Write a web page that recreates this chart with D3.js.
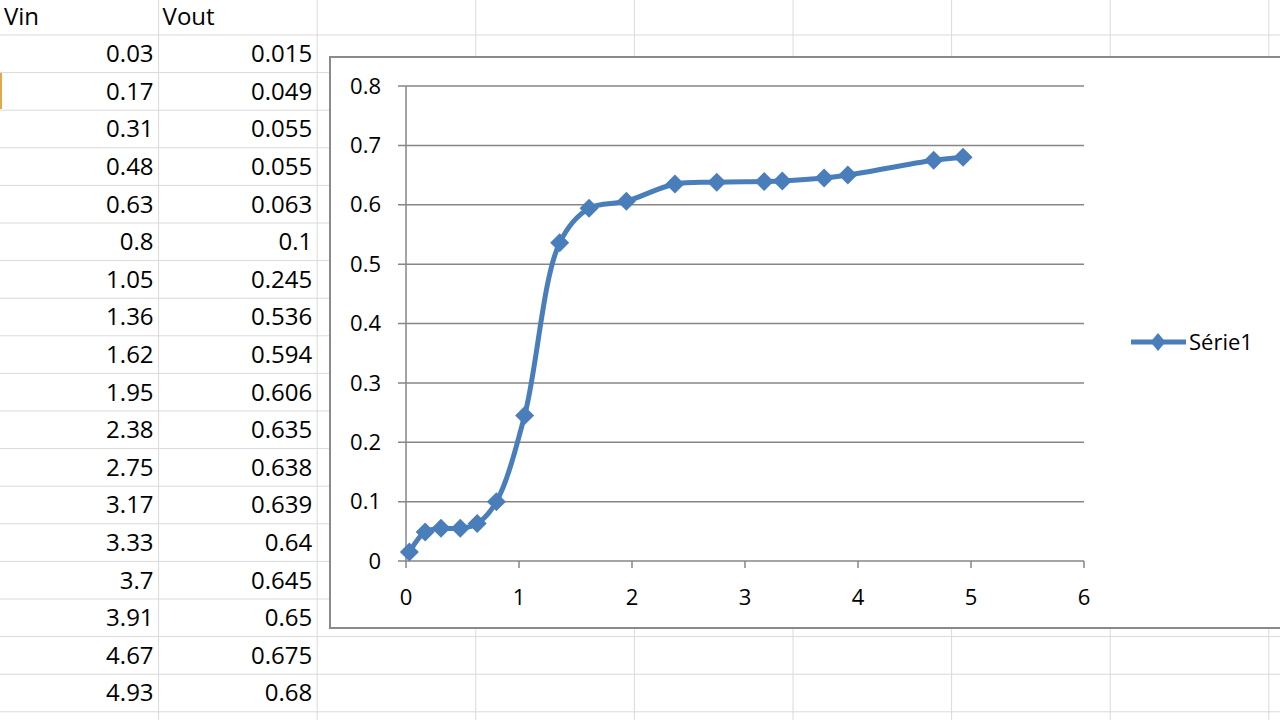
<!DOCTYPE html>
<html>
<head>
<meta charset="utf-8">
<script src="https://cdn.jsdelivr.net/npm/d3@7/dist/d3.min.js"></script>
<style>
  html, body { margin: 0; padding: 0; background: #ffffff; }
  svg { display: block; }
  text { font-family: "Open Sans", "Noto Sans", sans-serif; fill: #000000; }
</style>
</head>
<body>
<svg id="chart" width="1280" height="720"></svg>
<script>
// ---- data ----
const headers = ["Vin", "Vout"];
const vin  = [0.03, 0.17, 0.31, 0.48, 0.63, 0.8, 1.05, 1.36, 1.62, 1.95, 2.38, 2.75, 3.17, 3.33, 3.7, 3.91, 4.67, 4.93];
const vout = [0.015, 0.049, 0.055, 0.055, 0.063, 0.1, 0.245, 0.536, 0.594, 0.606, 0.635, 0.638, 0.639, 0.64, 0.645, 0.65, 0.675, 0.68];
const xTicks = [0, 1, 2, 3, 4, 5, 6];
const yTicks = [0, 0.1, 0.2, 0.3, 0.4, 0.5, 0.6, 0.7, 0.8];
const seriesName = "Série1";

const points = vin.map((v, i) => ({ x: v, y: vout[i] }));

const svg = d3.select("#chart");
const W = 1280, H = 720;

// ---- spreadsheet grid ----
const colW = 158.6, rowH = 37.6, headerBottom = 35;
const grid = svg.append("g");
for (let c = 1; c * colW < W; c++) {
  grid.append("line").attr("x1", c * colW).attr("x2", c * colW)
    .attr("y1", 0).attr("y2", H).attr("stroke", "#dadada").attr("stroke-width", 1);
}
for (let r = 0; headerBottom + r * rowH < H; r++) {
  const y = headerBottom + r * rowH;
  grid.append("line").attr("x1", 0).attr("x2", W)
    .attr("y1", y).attr("y2", y).attr("stroke", "#dadada").attr("stroke-width", 1);
}
// selected row marker on the left edge
grid.append("line").attr("x1", 1).attr("x2", 1).attr("y1", 73).attr("y2", 109)
  .attr("stroke", "#e3a84a").attr("stroke-width", 2);

// headers
const fs = 24;
headers.forEach((h, i) => {
  svg.append("text").attr("x", i * colW + 4).attr("y", 17).attr("dy", "0.35em")
    .attr("font-size", fs).text(h);
});
// values
vin.forEach((v, i) => {
  const yc = headerBottom + i * rowH + rowH / 2;
  svg.append("text").attr("x", colW - 5).attr("y", yc).attr("dy", "0.35em")
    .attr("text-anchor", "end").attr("font-size", fs).text(String(v));
  svg.append("text").attr("x", 2 * colW - 5).attr("y", yc).attr("dy", "0.35em")
    .attr("text-anchor", "end").attr("font-size", fs).text(String(vout[i]));
});

// ---- chart area ----
svg.append("rect").attr("x", 330).attr("y", 57).attr("width", 1000).attr("height", 571)
  .attr("fill", "#ffffff").attr("stroke", "#8a8a8a").attr("stroke-width", 2);

const x = d3.scaleLinear().domain([0, 6]).range([406, 1084]);
const y = d3.scaleLinear().domain([0, 0.8]).range([561, 86]);

const axisColor = "#868686";
const tfs = 22;

// horizontal gridlines + y axis ticks
const gy = svg.append("g");
gy.selectAll("line.g").data(yTicks).join("line")
  .attr("x1", x(0) - 8).attr("x2", x(6))
  .attr("y1", d => y(d)).attr("y2", d => y(d))
  .attr("stroke", axisColor).attr("stroke-width", 1.5);
gy.selectAll("text").data(yTicks).join("text")
  .attr("x", 381).attr("y", d => y(d)).attr("dy", "0.35em")
  .attr("text-anchor", "end").attr("font-size", tfs)
  .text(d => d3.format("")(+d.toFixed(1)));
// y axis line
svg.append("line").attr("x1", x(0)).attr("x2", x(0)).attr("y1", y(0.8)).attr("y2", y(0))
  .attr("stroke", axisColor).attr("stroke-width", 1.5);

// x axis ticks & labels
const gx = svg.append("g");
gx.selectAll("line").data(xTicks).join("line")
  .attr("x1", d => x(d)).attr("x2", d => x(d))
  .attr("y1", y(0)).attr("y2", y(0) + 7)
  .attr("stroke", axisColor).attr("stroke-width", 1.5);
gx.selectAll("text").data(xTicks).join("text")
  .attr("x", d => x(d)).attr("y", 597).attr("dy", "0.35em")
  .attr("text-anchor", "middle").attr("font-size", tfs).text(d => d);

// ---- series ----
const blue = "#4a7ebb";
const line = d3.line().x(d => x(d.x)).y(d => y(d.y)).curve(d3.curveCatmullRom.alpha(0.5));
svg.append("path").datum(points).attr("d", line)
  .attr("fill", "none").attr("stroke", blue).attr("stroke-width", 5)
  .attr("stroke-linejoin", "round").attr("stroke-linecap", "round");

const diamond = (hx, hy) => `M0,${-hy}L${hx},0L0,${hy}L${-hx},0Z`;
svg.append("g").selectAll("path").data(points).join("path")
  .attr("d", diamond(9.5, 9.5))
  .attr("transform", d => `translate(${x(d.x)},${y(d.y)})`)
  .attr("fill", blue);

// ---- legend ----
const lg = svg.append("g");
lg.append("line").attr("x1", 1131).attr("x2", 1186).attr("y1", 342).attr("y2", 342)
  .attr("stroke", blue).attr("stroke-width", 5);
lg.append("path").attr("d", diamond(7.5, 9)).attr("transform", "translate(1158,342)").attr("fill", blue);
lg.append("text").attr("x", 1189).attr("y", 342).attr("dy", "0.35em")
  .attr("font-size", tfs).text(seriesName);
</script>
</body>
</html>
